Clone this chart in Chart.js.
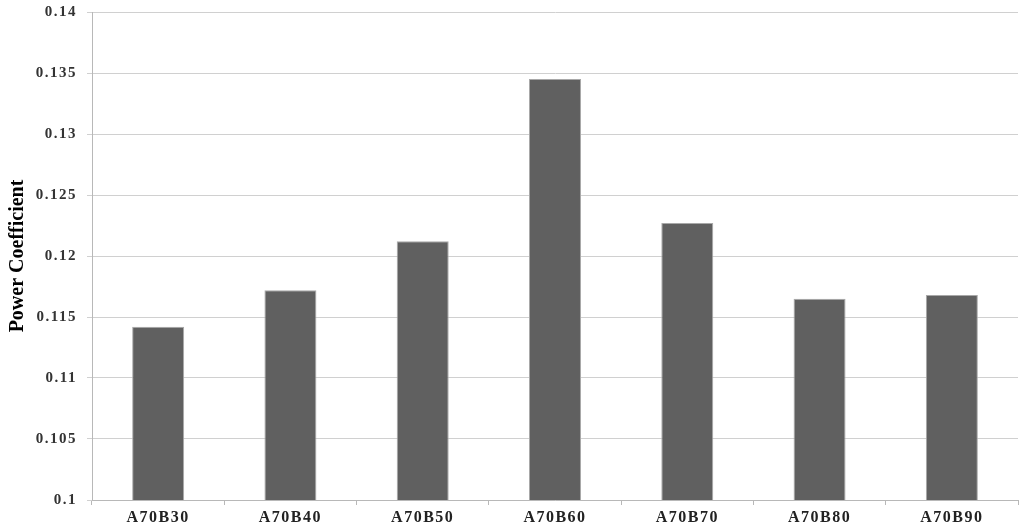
<!DOCTYPE html>
<html>
<head>
<meta charset="utf-8">
<script src="https://cdn.jsdelivr.net/npm/chart.js@4/dist/chart.umd.min.js"></script>
<style>
  html, body { margin: 0; padding: 0; background: #fff; }
  #wrap { width: 1024px; height: 529px; position: relative; }
</style>
</head>
<body>
<div id="wrap"><canvas id="grafik"></canvas></div>
<script>
// Data
const kategori = ['A70B30', 'A70B40', 'A70B50', 'A70B60', 'A70B70', 'A70B80', 'A70B90'];
const powerCoefficient = [0.1142, 0.1172, 0.1212, 0.1345, 0.1227, 0.1165, 0.1168];
const sumbuY = { min: 0.1, max: 0.14, step: 0.005 };

const serif = '"Liberation Serif", "Times New Roman", serif';

// Spasi huruf untuk label sumbu (tanpa mengubah judul sumbu)
const spasiLabel = {
  id: 'spasiLabel',
  afterUpdate(chart) {
    Object.values(chart.scales).forEach(s => {
      if (s._spasiPatched) return;
      const asli = s.drawLabels;
      s.drawLabels = function (area) {
        const c = this.ctx;
        const prev = c.letterSpacing;
        c.letterSpacing = '1.5px';
        asli.call(this, area);
        c.letterSpacing = prev || '0px';
      };
      s._spasiPatched = true;
    });
  }
};

const ctx = document.getElementById('grafik').getContext('2d');
const grafik = new Chart(ctx, {
  type: 'bar',
  data: {
    labels: kategori,
    datasets: [{
      label: 'Power Coefficient',
      data: powerCoefficient,
      backgroundColor: '#606060',
      borderColor: '#a8a8a8',
      borderWidth: 1,
      barPercentage: 0.393,
      categoryPercentage: 1.0
    }]
  },
  plugins: [spasiLabel],
  options: {
    responsive: true,
    maintainAspectRatio: false,
    animation: false,
    layout: { padding: { top: 12, right: 6, left: 0, bottom: 0 } },
    plugins: {
      legend: { display: false },
      tooltip: { enabled: false }
    },
    scales: {
      x: {
        offset: true,
        grid: {
          offset: true,
          drawOnChartArea: false,
          drawTicks: true,
          tickLength: 5,
          color: '#b8b8b8'
        },
        border: { color: '#b8b8b8' },
        ticks: {
          color: '#222',
          padding: 3,
          font: { family: serif, size: 16, weight: 'bold' }
        },
        afterFit: s => { s.height = 29; s.paddingLeft = 0; s.paddingRight = 0; }
      },
      y: {
        min: sumbuY.min,
        max: sumbuY.max,
        ticks: {
          stepSize: sumbuY.step,
          color: '#333',
          padding: 10,
          font: { family: serif, size: 15, weight: 'bold' },
          callback: v => String(Number(v.toFixed(3)))
        },
        grid: {
          color: '#d0d0d0',
          tickLength: 5
        },
        border: { color: '#b8b8b8' },
        title: {
          display: true,
          text: 'Power Coefficient',
          color: '#000',
          font: { family: serif, size: 20, weight: 'bold' },
          padding: { top: 6, bottom: 0 }
        },
        afterFit: s => { s.width = 92; s.paddingTop = 0; s.paddingBottom = 0; }
      }
    }
  }
});
</script>
</body>
</html>
